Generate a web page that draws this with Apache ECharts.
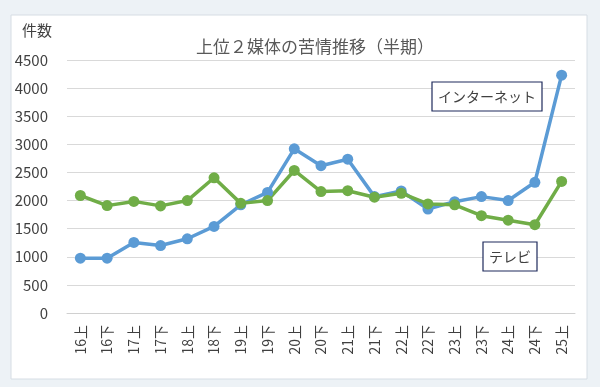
<!DOCTYPE html>
<html>
<head>
<meta charset="utf-8">
<script src="https://cdn.jsdelivr.net/npm/echarts@6/dist/echarts.min.js"></script>
<style>
html,body{margin:0;padding:0;background:#edf2f6;}
#main{width:600px;height:387px;}
</style>
</head>
<body>
<div id="main"></div>
<script>
const categories = ['16上','16下','17上','17下','18上','18下','19上','19下','20上','20下','21上','21下','22上','22下','23上','23下','24上','24下','25上'];
const internet = [975, 975, 1255, 1200, 1320, 1540, 1925, 2145, 2920, 2620, 2735, 2070, 2170, 1850, 1980, 2070, 2000, 2325, 4230];
const tv = [2090, 1910, 1985, 1905, 2000, 2405, 1950, 2000, 2535, 2160, 2175, 2060, 2130, 1940, 1925, 1730, 1650, 1570, 2340];
const yTicks = { min: 0, max: 4500, interval: 500 };
const titleText = '上位２媒体の苦情推移（半期）';
const yName = '件数';
const labelInternet = 'インターネット';
const labelTV = 'テレビ';

const FONT = '"Noto Sans CJK JP", "Noto Sans", sans-serif';
const chart = echarts.init(document.getElementById('main'));
chart.setOption({
  backgroundColor: 'transparent',
  animation: false,
  textStyle: { fontFamily: FONT },
  title: {
    text: titleText,
    left: 310, top: 33, textAlign: 'center',
    textStyle: { fontSize: 17, fontWeight: 'normal', color: '#595959', fontFamily: FONT }
  },
  graphic: [
    { type: 'rect', z: -10, shape: { x: 11, y: 15, width: 576, height: 364 },
      style: { fill: '#ffffff', stroke: '#d6dde4', lineWidth: 1 } },
    { type: 'text', left: 22, top: 23,
      style: { text: yName, fontSize: 15, fill: '#404040', fontFamily: FONT } },
    { type: 'rect', z: 10, shape: { x: 432, y: 82, width: 110, height: 29 },
      style: { fill: '#ffffff', stroke: '#1f2a5c', lineWidth: 1.2 } },
    { type: 'text', z: 11, x: 487, y: 96.5,
      style: { text: labelInternet, fontSize: 14, fill: '#404040', align: 'center', verticalAlign: 'middle', fontFamily: FONT } },
    { type: 'rect', z: 10, shape: { x: 483, y: 242, width: 54, height: 29 },
      style: { fill: '#ffffff', stroke: '#1f2a5c', lineWidth: 1.2 } },
    { type: 'text', z: 11, x: 510, y: 256.5,
      style: { text: labelTV, fontSize: 14, fill: '#404040', align: 'center', verticalAlign: 'middle', fontFamily: FONT } }
  ],
  grid: { left: 67, right: 25, top: 60, bottom: 74, containLabel: false },
  xAxis: {
    type: 'category', data: categories, boundaryGap: true,
    axisLine: { lineStyle: { color: '#d0d0d0' } },
    axisTick: { show: false },
    axisLabel: { rotate: 90, fontSize: 14, color: '#404040', margin: 12, fontFamily: FONT }
  },
  yAxis: {
    type: 'value', min: yTicks.min, max: yTicks.max, interval: yTicks.interval,
    axisLine: { show: false }, axisTick: { show: false },
    splitLine: { lineStyle: { color: '#d9d9d9' } },
    axisLabel: { fontSize: 15, color: '#404040', margin: 19, fontFamily: FONT, formatter: v => String(v) }
  },
  series: [
    { name: labelInternet, type: 'line', data: internet,
      symbol: 'circle', symbolSize: 11,
      lineStyle: { width: 3.5, color: '#5b9bd5' },
      itemStyle: { color: '#5b9bd5' } },
    { name: labelTV, type: 'line', data: tv,
      symbol: 'circle', symbolSize: 11,
      lineStyle: { width: 3.5, color: '#70ad47' },
      itemStyle: { color: '#70ad47' } }
  ]
});
</script>
</body>
</html>
